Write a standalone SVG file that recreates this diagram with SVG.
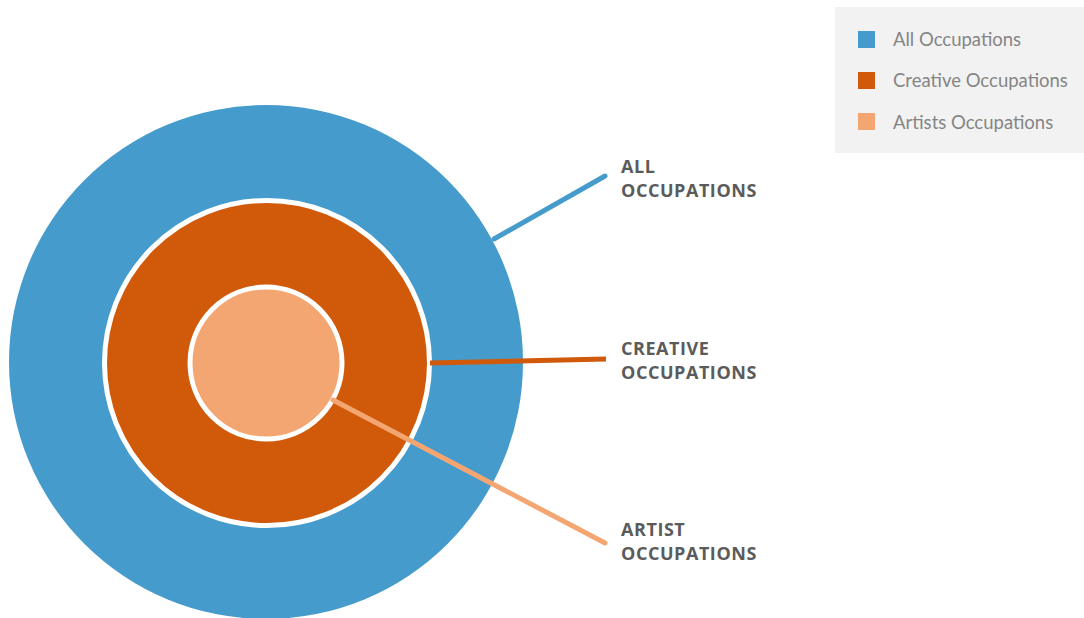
<svg xmlns="http://www.w3.org/2000/svg" width="1084" height="618" viewBox="0 0 1084 618">
<style>
.lbl{font-family:"Open Sans","Liberation Sans",sans-serif;font-weight:700;font-size:18px;letter-spacing:0.55px;fill:#5b5b5b}
.leg{font-family:"Lato","Liberation Sans",sans-serif;font-weight:400;font-size:18.5px;fill:#858585}
.conn{fill:none;stroke-width:5;stroke-linecap:round}
</style>
<rect width="1084" height="618" fill="#ffffff"/>
<g id="all-occupations">
<circle cx="266" cy="362" r="257" fill="#459bcc"/>
</g>
<g id="connector-all">
<line class="conn" x1="494" y1="239" x2="605" y2="176" stroke="#459bcc"/>
</g>
<g id="creative-occupations">
<circle cx="267" cy="363" r="162.5" fill="#d05a0a" stroke="#ffffff" stroke-width="5"/>
</g>
<g id="connectors">
<line class="conn" x1="430" y1="363" x2="606" y2="359" stroke="#d05a0a" style="stroke-linecap:butt"/>
</g>
<g id="artist-occupations">
<circle cx="266" cy="363" r="76" fill="#f4a672" stroke="#ffffff" stroke-width="5"/>
</g>
<g id="connector-artist">
<line class="conn" x1="333" y1="400" x2="605" y2="543" stroke="#f4a672"/>
</g>
<g id="labels">
<text class="lbl" x="621" y="173">ALL</text>
<text class="lbl" x="621" y="197">OCCUPATIONS</text>
<text class="lbl" x="621" y="355">CREATIVE</text>
<text class="lbl" x="621" y="379">OCCUPATIONS</text>
<text class="lbl" x="621" y="536">ARTIST</text>
<text class="lbl" x="621" y="560">OCCUPATIONS</text>
</g>
<g id="legend">
<rect x="835" y="7" width="249" height="146" fill="#f2f2f2"/>
<rect x="858" y="31" width="17" height="17" fill="#459bcc"/>
<rect x="858" y="72" width="17" height="17" fill="#d05a0a"/>
<rect x="858" y="113" width="17" height="17" fill="#f4a672"/>
<text class="leg" x="893" y="46">All Occupations</text>
<text class="leg" x="893" y="87">Creative Occupations</text>
<text class="leg" x="893" y="129">Artists Occupations</text>
</g>
</svg>
